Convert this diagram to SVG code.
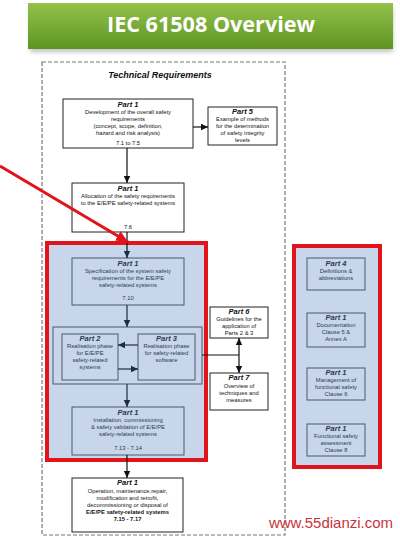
<svg xmlns="http://www.w3.org/2000/svg" width="400" height="538" viewBox="0 0 400 538">
<style>
.t{font-family:"Liberation Sans",Arial,sans-serif;font-size:5.8px;fill:#111;text-anchor:middle}
.p{font-family:"Liberation Sans",Arial,sans-serif;font-size:7.5px;font-weight:bold;font-style:italic;fill:#111;text-anchor:middle}
.b .t,.b .p{fill:#2b3a52}
.wbox{fill:#fff;stroke:#222;stroke-width:1}
.bbox{fill:#c7d6ea;stroke:#4a5870;stroke-width:1}
.hd{font-family:"Liberation Sans",Arial,sans-serif;font-size:9px;font-weight:bold;font-style:italic;fill:#111;text-anchor:middle}
.c{stroke:#111;stroke-width:1.2;fill:none}
.cb{stroke:#1f2d44;stroke-width:1.2;fill:none}
.red{fill:#c7d6ea;stroke:#e0141a;stroke-width:4}
</style>
<defs>
<linearGradient id="g" x1="0" y1="0" x2="0" y2="1">
<stop offset="0" stop-color="#93c24a"/>
<stop offset="1" stop-color="#5e9423"/>
</linearGradient>
<filter id="sh" x="-5%" y="-20%" width="110%" height="160%"><feGaussianBlur stdDeviation="2"/></filter>
<marker id="a" markerWidth="8" markerHeight="8" refX="7" refY="4" orient="auto" markerUnits="userSpaceOnUse"><path d="M0,0.8 L7,4 L0,7.2 Z" fill="#111"/></marker>
<marker id="an" markerWidth="8" markerHeight="8" refX="7" refY="4" orient="auto" markerUnits="userSpaceOnUse"><path d="M0,0.8 L7,4 L0,7.2 Z" fill="#1f2d44"/></marker>
<marker id="ar" markerWidth="14" markerHeight="12" refX="12" refY="6" orient="auto" markerUnits="userSpaceOnUse"><path d="M0,0.5 L12,6 L0,11.5 Z" fill="#e0141a"/></marker>
</defs>

<g id="title">
<rect x="30" y="8" width="363" height="44" fill="#888" opacity="0.5" filter="url(#sh)"/>
<rect x="28" y="3" width="365" height="46" fill="url(#g)"/>
<text x="211" y="32" font-family="'Open Sans','Liberation Sans',sans-serif" font-size="22" font-weight="bold" fill="#fff" text-anchor="middle" textLength="208" lengthAdjust="spacingAndGlyphs">IEC 61508 Overview</text>
</g>

<g id="technical-requirements">
<rect x="42" y="62" width="243" height="473" fill="none" stroke="#777" stroke-width="1.2" stroke-dasharray="4,2"/>
<text class="hd" x="160" y="78">Technical Requirements</text>
</g>

<g id="other-requirements">
<text class="hd" x="335" y="257">Other Requirements</text>
<rect class="red" x="294" y="246" width="86" height="221"/>
</g>

<g id="focus-area">
<rect class="red" x="47" y="243" width="159" height="217"/>
</g>

<g id="part1-overall">
<rect class="wbox" x="63" y="99" width="130" height="49"/>
<text class="p" x="128" y="107">Part 1</text>
<text class="t" x="128" y="114">Development of the overall safety</text>
<text class="t" x="128" y="121">requirements</text>
<text class="t" x="128" y="128">(concept, scope, definition,</text>
<text class="t" x="128" y="135">hazard and risk analysis)</text>
<text class="t" x="128" y="145">7.1 to 7.5</text>
</g>

<g id="part5">
<rect class="wbox" x="208" y="107" width="69" height="38"/>
<text class="p" x="242.5" y="114">Part 5</text>
<text class="t" x="242.5" y="121">Example of methods</text>
<text class="t" x="242.5" y="128">for the determination</text>
<text class="t" x="242.5" y="135">of safety integrity</text>
<text class="t" x="242.5" y="142">levels</text>
</g>

<g id="part1-allocation">
<rect class="wbox" x="72" y="183" width="112" height="49"/>
<text class="p" x="128" y="191">Part 1</text>
<text class="t" x="128" y="198">Allocation of the safety requirements</text>
<text class="t" x="128" y="205">to the E/E/PE safety-related systems</text>
<text class="t" x="128" y="229">7.6</text>
</g>

<g id="part1-specification" class="b">
<rect class="bbox" x="72" y="258" width="112" height="47"/>
<text class="p" x="128" y="266">Part 1</text>
<text class="t" x="128" y="273">Specification of the system safety</text>
<text class="t" x="128" y="280">requirements for the E/E/PE</text>
<text class="t" x="128" y="287">safety-related systems</text>
<text class="t" x="128" y="300">7.10</text>
</g>

<g id="realisation" class="b">
<rect class="bbox" x="53" y="327" width="149" height="57"/>
</g>

<g id="part2" class="b">
<rect class="bbox" x="62" y="334" width="56" height="46"/>
<text class="p" x="90" y="341">Part 2</text>
<text class="t" x="90" y="348">Realisation phase</text>
<text class="t" x="90" y="355">for E/E/PE</text>
<text class="t" x="90" y="362">safety-related</text>
<text class="t" x="90" y="369">systems</text>
</g>

<g id="part3" class="b">
<rect class="bbox" x="138" y="334" width="57" height="46"/>
<text class="p" x="166.5" y="341">Part 3</text>
<text class="t" x="166.5" y="348">Realisation phase</text>
<text class="t" x="166.5" y="355">for safety-related</text>
<text class="t" x="166.5" y="362">software</text>
</g>

<g id="part6">
<rect class="wbox" x="210" y="307" width="58" height="31"/>
<text class="p" x="239" y="314">Part 6</text>
<text class="t" x="239" y="321">Guidelines for the</text>
<text class="t" x="239" y="328">application of</text>
<text class="t" x="239" y="335">Parts 2 &amp; 3</text>
</g>

<g id="part7">
<rect class="wbox" x="210" y="373" width="58" height="37"/>
<text class="p" x="239" y="380">Part 7</text>
<text class="t" x="239" y="388">Overview of</text>
<text class="t" x="239" y="395">techniques and</text>
<text class="t" x="239" y="402">measures</text>
</g>

<g id="part1-installation" class="b">
<rect class="bbox" x="72" y="407" width="112" height="48"/>
<text class="p" x="128" y="415">Part 1</text>
<text class="t" x="128" y="422">Installation, commissioning</text>
<text class="t" x="128" y="429">&amp; safety validation of E/E/PE</text>
<text class="t" x="128" y="436">safety-related systems</text>
<text class="t" x="128" y="450">7.13 - 7.14</text>
</g>

<g id="part1-operation">
<rect class="wbox" x="72" y="478" width="111" height="54"/>
<text class="p" x="127.5" y="485">Part 1</text>
<text class="t" x="127.5" y="493">Operation, maintenance,repair,</text>
<text class="t" x="127.5" y="500">modification and retrofit,</text>
<text class="t" x="127.5" y="507">decommissioning or disposal of</text>
<text class="t" x="127.5" y="514" font-weight="bold">E/E/PE safety-related systems</text>
<text class="t" x="127.5" y="521" font-weight="bold">7.15 - 7.17</text>
</g>

<g id="part4" class="b">
<rect class="bbox" x="307" y="258" width="58" height="32"/>
<text class="p" x="336" y="266">Part 4</text>
<text class="t" x="336" y="273">Definitions &amp;</text>
<text class="t" x="336" y="280">abbreviations</text>
</g>

<g id="part1-documentation" class="b">
<rect class="bbox" x="307" y="313" width="58" height="34"/>
<text class="p" x="336" y="320">Part 1</text>
<text class="t" x="336" y="327">Documentation</text>
<text class="t" x="336" y="334">Clause 5 &amp;</text>
<text class="t" x="336" y="341">Annex A</text>
</g>

<g id="part1-management" class="b">
<rect class="bbox" x="307" y="368" width="58" height="32"/>
<text class="p" x="336" y="375">Part 1</text>
<text class="t" x="336" y="382">Management of</text>
<text class="t" x="336" y="389">functional safety</text>
<text class="t" x="336" y="396">Clause 6</text>
</g>

<g id="part1-assessment" class="b">
<rect class="bbox" x="307" y="424" width="58" height="32"/>
<text class="p" x="336" y="431">Part 1</text>
<text class="t" x="336" y="438">Functional safety</text>
<text class="t" x="336" y="445">assessment</text>
<text class="t" x="336" y="452">Clause 8</text>
</g>

<g id="connectors">
<line class="c" x1="193" y1="127" x2="208" y2="127" marker-end="url(#a)"/>
<line class="c" x1="127" y1="148" x2="127" y2="183" marker-end="url(#a)"/>
<line class="c" x1="127" y1="232" x2="127" y2="258" marker-end="url(#an)"/>
<line class="cb" x1="127" y1="305" x2="127" y2="327" marker-end="url(#an)"/>
<line class="cb" x1="138" y1="345" x2="118" y2="345" marker-end="url(#an)"/>
<line class="cb" x1="118" y1="369" x2="138" y2="369" marker-end="url(#an)"/>
<line class="c" x1="202" y1="355" x2="239" y2="355"/>
<line class="c" x1="239" y1="355" x2="239" y2="338" marker-end="url(#a)"/>
<line class="c" x1="239" y1="355" x2="239" y2="373" marker-end="url(#a)"/>
<line class="cb" x1="127" y1="384" x2="127" y2="407" marker-end="url(#an)"/>
<line class="c" x1="127" y1="455" x2="127" y2="478" marker-end="url(#a)"/>
<line x1="0" y1="166" x2="128" y2="242" stroke="#e0141a" stroke-width="3" marker-end="url(#ar)"/>
</g>

<text x="331" y="528" font-family="'Liberation Sans',Arial,sans-serif" font-size="15" fill="#c8343a" text-anchor="middle">www.55dianzi.com</text>
</svg>
